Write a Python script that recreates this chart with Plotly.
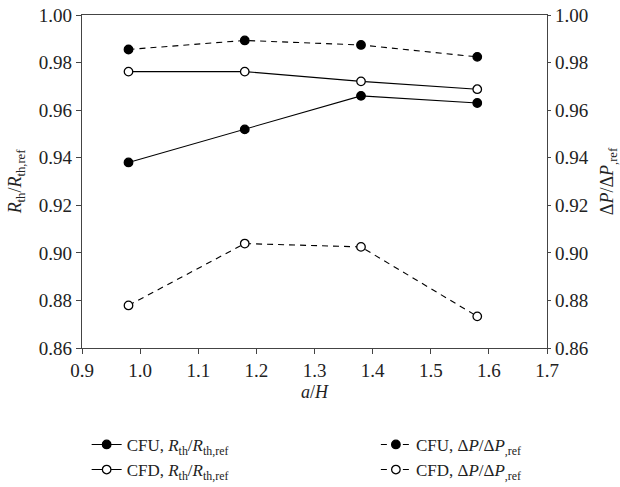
import plotly.graph_objects as go

x_vals = [0.98, 1.18, 1.38, 1.58]
cfu_rth = [0.9380, 0.9519, 0.9660, 0.9630]
cfd_rth = [0.9762, 0.9762, 0.9721, 0.9688]
cfu_dp = [0.9855, 0.9893, 0.9874, 0.9824]
cfd_dp = [0.8779, 0.9039, 0.9025, 0.8733]

x_ticks = [0.9, 1.0, 1.1, 1.2, 1.3, 1.4, 1.5, 1.6, 1.7]
y_ticks = [0.86, 0.88, 0.90, 0.92, 0.94, 0.96, 0.98, 1.00]

FONT = "Liberation Serif"
AX = "#444444"

rth = "<i>R</i><sub>th</sub>/<i>R</i><sub>th,ref</sub>"
dp = "Δ<i>P</i>/Δ<i>P</i><sub>,ref</sub>"

fig = go.Figure()

def add(y, name, filled, dashed, axis, legend):
    fig.add_trace(go.Scatter(
        x=x_vals, y=y, name=name, mode="lines+markers", yaxis=axis, legend=legend,
        line=dict(color="black", width=1.1, dash="6px,5px" if dashed else "solid"),
        marker=dict(size=8.5, symbol="circle",
                    color="black" if filled else "white",
                    line=dict(color="black", width=1.3)),
    ))

add(cfu_rth, "CFU, " + rth, True, False, "y", "legend")
add(cfd_rth, "CFD, " + rth, False, False, "y", "legend")
add(cfu_dp, "CFU, " + dp, True, True, "y2", "legend2")
add(cfd_dp, "CFD, " + dp, False, True, "y2", "legend2")

leg_common = dict(orientation="v", yanchor="top", y=-0.237, xanchor="left",
                  font=dict(family=FONT, size=17), tracegroupgap=0,
                  itemwidth=30, bgcolor="rgba(0,0,0,0)")

fig.update_layout(
    width=620, height=487,
    margin=dict(l=82, r=73, t=15, b=139, autoexpand=False),
    paper_bgcolor="white", plot_bgcolor="white",
    font=dict(family=FONT, size=19, color="#222222"),
    showlegend=True,
    legend=dict(x=0.01, **leg_common),
    legend2=dict(x=0.632, **leg_common),
    xaxis=dict(range=[0.9, 1.7], tickvals=x_ticks, ticktext=[f"{v:.1f}" for v in x_ticks],
               showgrid=False, zeroline=False, showline=True, linecolor=AX, linewidth=1.2,
               mirror=True, ticks="outside", ticklen=5, tickcolor=AX,
               title=dict(text="<i>a</i>/<i>H</i>", standoff=5, font=dict(size=18))),
    yaxis=dict(range=[0.86, 1.00], tickvals=y_ticks, ticktext=[f"{v:.2f}" for v in y_ticks],
               showgrid=False, zeroline=False, showline=True, linecolor=AX, linewidth=1.2,
               ticks="outside", ticklen=5, tickcolor=AX,
               title=dict(text=rth, standoff=12, font=dict(size=18))),
    yaxis2=dict(range=[0.86, 1.00], tickvals=y_ticks, ticktext=[f"{v:.2f}" for v in y_ticks],
                overlaying="y", side="right",
                showgrid=False, zeroline=False, showline=True, linecolor=AX, linewidth=1.2,
                ticks="outside", ticklen=3, tickcolor=AX,
                title=dict(text=dp, standoff=14, font=dict(size=18))),
)

fig.write_html("out.html")
